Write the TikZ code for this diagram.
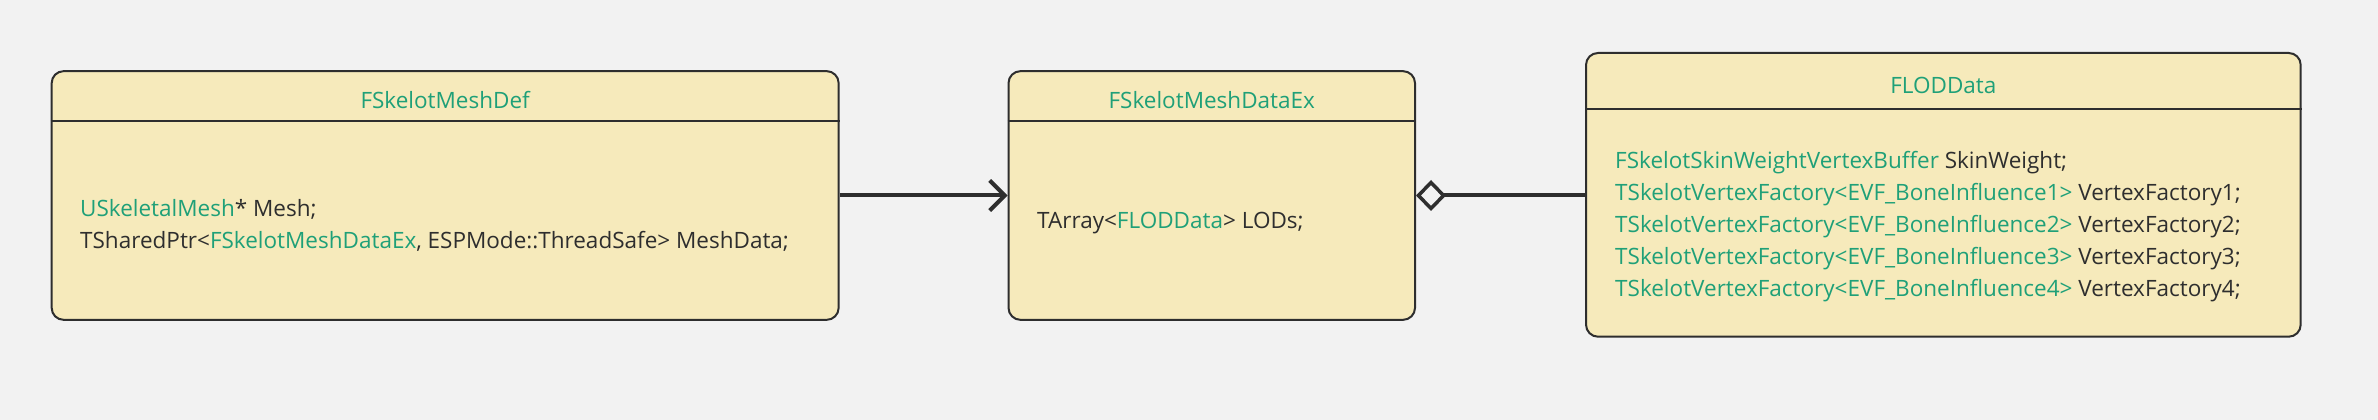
\documentclass[tikz,border=0pt]{standalone}
\usepackage{fontspec}
\setmainfont{Open Sans}
\usetikzlibrary{arrows.meta}
\definecolor{bg}{HTML}{F2F2F2}
\definecolor{boxfill}{HTML}{F6EABB}
\definecolor{grn}{HTML}{1FA078}
\definecolor{ink}{HTML}{2E2E2E}
\newcommand{\g}[1]{\textcolor{grn}{#1}}
\tikzset{
  classbox/.style={draw=ink, line width=2pt, fill=boxfill, rounded corners=12pt, inner sep=0pt},
  title/.style={text=grn, font=\fontsize{22.5}{26}\selectfont, anchor=center},
  body/.style={text=ink, font=\fontsize{22.5}{32}\selectfont, anchor=west, align=left, inner sep=0pt},
  conn/.style={draw=ink, line width=4pt},
  hline/.style={draw=ink, line width=2pt}
}
\begin{document}
\begin{tikzpicture}[x=1pt,y=1pt]
\fill[bg] (0,0) rectangle (2378,420);
\useasboundingbox (0,0) rectangle (2378,420);
% boxes
\node[classbox, minimum width=787pt, minimum height=248.7pt] (b1) at (445.15,224.5) {};
\node[classbox, minimum width=406.5pt, minimum height=248.7pt] (b2) at (1211.75,224.5) {};
\node[classbox, minimum width=714.7pt, minimum height=283.7pt] (b3) at (1943.35,225.15) {};
% header lines
\draw[hline] (b1.west |- 0,299) -- (b1.east |- 0,299);
\draw[hline] (b2.west |- 0,299) -- (b2.east |- 0,299);
\draw[hline] (b3.west |- 0,311) -- (b3.east |- 0,311);
% titles
\node[title] (t1) at (445.15,320) {FSkelotMeshDef};
\node[title] (t2) at (1211.75,320) {FSkelotMeshDataEx};
\node[title] (t3) at (1943.35,335) {FLODData};
% bodies
\node[body] (m1) at (80,195) {\g{USkeletalMesh}* Mesh;\\TSharedPtr<\g{FSkelotMeshDataEx}, ESPMode::ThreadSafe> MeshData;};
\node[body] (m2) at (1037,197) {TArray<\g{FLODData}> LODs;};
\node[body] (m3) at (1615,193) {\g{FSkelotSkinWeightVertexBuffer} SkinWeight;\\
\g{TSkelotVertexFactory<EVF\_BoneInfluence1>} VertexFactory1;\\
\g{TSkelotVertexFactory<EVF\_BoneInfluence2>} VertexFactory2;\\
\g{TSkelotVertexFactory<EVF\_BoneInfluence3>} VertexFactory3;\\
\g{TSkelotVertexFactory<EVF\_BoneInfluence4>} VertexFactory4;};
% connectors
\draw[conn, -{Straight Barb[length=15pt,width=30pt,line width=4pt]}] (b1.east) -- (b2.west);
\draw[conn, {Diamond[open,fill=bg,length=30pt,width=31pt,line width=3.5pt]}-] (b2.east) -- (b3.west |- b2.east);
\end{tikzpicture}
\end{document}
